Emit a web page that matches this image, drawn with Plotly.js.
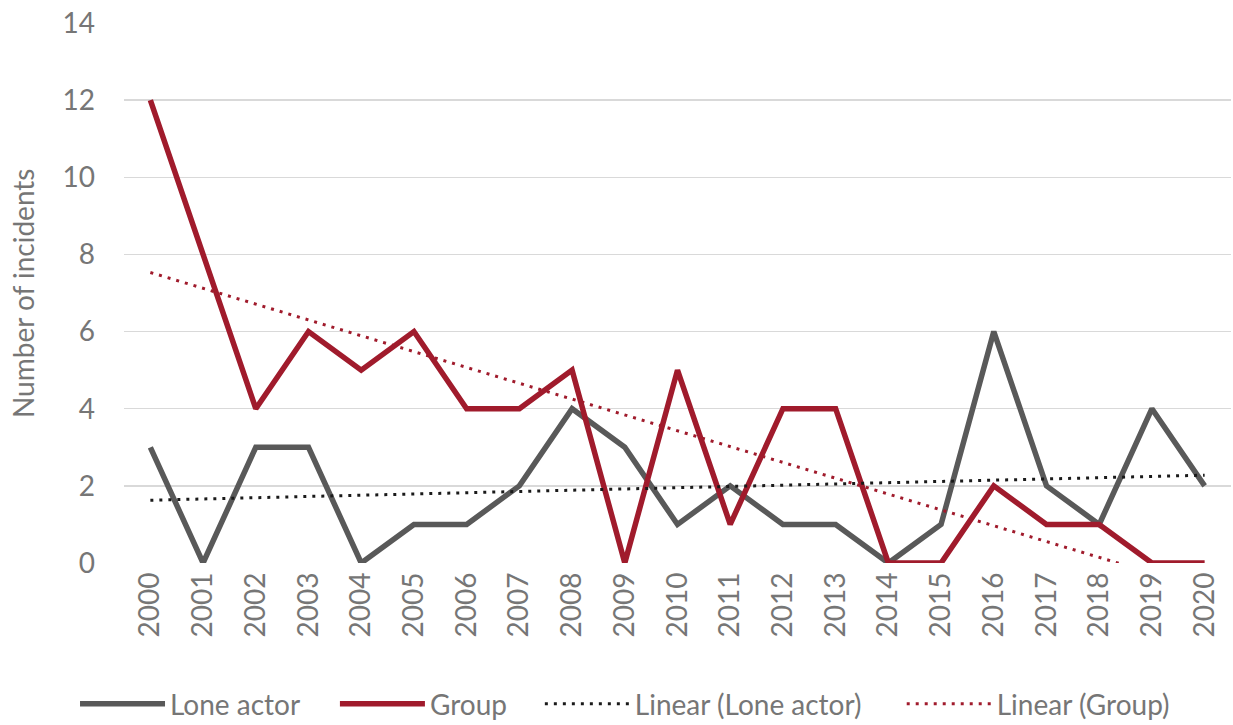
<!DOCTYPE html>
<html>
<head>
<meta charset="utf-8">
<script src="https://cdn.plot.ly/plotly-3.0.1.min.js"></script>
<style>html,body{margin:0;padding:0;background:#fff}#chart{width:1233px;height:725px}</style>
</head>
<body>
<div id="chart"></div>
<script>
const years = [2000,2001,2002,2003,2004,2005,2006,2007,2008,2009,2010,2011,2012,2013,2014,2015,2016,2017,2018,2019,2020];
const loneActor = [3,0,3,3,0,1,1,2,4,3,1,2,1,1,0,1,6,2,1,4,2];
const group = [12,8,4,6,5,6,4,4,5,0,5,1,4,4,0,0,2,1,1,0,0];
const yTicks = [0,2,4,6,8,10,12,14];
const seriesNames = ['Lone actor', 'Group', 'Linear (Lone actor)', 'Linear (Group)'];
const yTitle = 'Number of incidents';

function linearFit(xs, ys) {
  const n = xs.length;
  const mx = xs.reduce((a,b)=>a+b,0)/n;
  const my = ys.reduce((a,b)=>a+b,0)/n;
  let sxy = 0, sxx = 0;
  for (let i=0;i<n;i++){ sxy += (xs[i]-mx)*(ys[i]-my); sxx += (xs[i]-mx)*(xs[i]-mx); }
  const b = sxy/sxx, a = my - b*mx;
  return xs.map(x => a + b*x);
}

const grey = '#595959', red = '#A01B2C', txt = '#767676';
const font = 'Lato, "Open Sans", sans-serif';
const FS = 28;

const traces = [
  {x: years, y: loneActor, name: seriesNames[0], mode: 'lines', line: {color: grey, width: 5.5}, legend: 'legend'},
  {x: years, y: group, name: seriesNames[1], mode: 'lines', line: {color: red, width: 5.5}, legend: 'legend2'},
  {x: years, y: linearFit(years, loneActor), name: seriesNames[2], mode: 'lines', line: {color: '#1a1a1a', width: 3, dash: '3px,6px'}, legend: 'legend3'},
  {x: years, y: linearFit(years, group), name: seriesNames[3], mode: 'lines', line: {color: red, width: 3, dash: '3px,6px'}, legend: 'legend4'}
];

const L = 124, PW = 1107.4;
function leg(px) {
  return {orientation: 'h', x: (px - L)/PW, xanchor: 'left', yref: 'container', y: 1 - 704/725, yanchor: 'middle',
          font: {size: FS, color: txt, family: font}, itemwidth: 85, bgcolor: 'rgba(0,0,0,0)'};
}

const layout = {
  width: 1233, height: 725,
  margin: {l: L, r: 2, t: 23, b: 162},
  paper_bgcolor: '#fff', plot_bgcolor: '#fff',
  font: {family: font, color: txt, size: FS},
  showlegend: true,
  legend: leg(75), legend2: leg(335), legend3: leg(540), legend4: leg(902),
  xaxis: {
    range: [1999.5, 2020.5], tickmode: 'array', tickvals: years, ticktext: years.map(String),
    tickangle: -90, showgrid: false, zeroline: false, showline: false, ticks: '',
    tickfont: {size: FS, color: txt}, ticklabelstandoff: 3, automargin: false, fixedrange: true
  },
  yaxis: {
    range: [0, 14], tickmode: 'array', tickvals: yTicks,
    showgrid: true, gridcolor: '#d9d9d9', gridwidth: 1.5, zeroline: false, showline: false,
    ticks: '', tickfont: {size: FS, color: txt}, ticklabelstandoff: 28,
    automargin: false, fixedrange: true
  },
  annotations: [{
    text: yTitle, xref: 'paper', yref: 'paper', x: (23 - L)/PW, y: 0.5,
    xanchor: 'center', yanchor: 'middle', textangle: -90, showarrow: false,
    font: {size: FS, color: txt, family: font}
  }]
};

Plotly.newPlot('chart', traces, layout, {displayModeBar: false, staticPlot: true});
</script>
</body>
</html>
